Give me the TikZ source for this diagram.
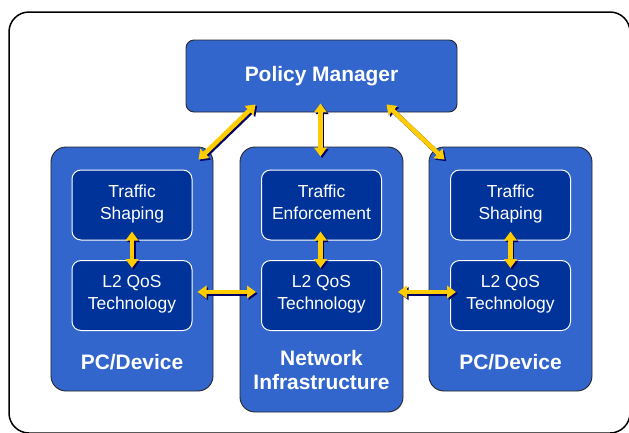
\documentclass[tikz,border=0pt]{standalone}
\usepackage{fontspec}
\setmainfont{Liberation Sans}
\usetikzlibrary{arrows.meta,calc}
\definecolor{midblue}{HTML}{3366CC}
\definecolor{darkblue}{HTML}{003399}
\definecolor{gold}{HTML}{FFCC00}
\definecolor{navy}{HTML}{000066}
\tikzset{
  outerbox/.style={draw=black!85,line width=0.9bp,fill=midblue,rounded corners=15bp,inner sep=0pt},
  innerbox/.style={draw=white,line width=1bp,fill=darkblue,rounded corners=9bp,inner sep=0pt,
    minimum width=120bp,minimum height=70bp,text=white,align=center,
    font=\fontsize{17.5}{22}\selectfont},
  boxlabel/.style={text=white,align=center,font=\fontsize{21}{25}\selectfont\bfseries},
  arr/.style={draw=gold,line width=4.6bp,{Triangle[width=12.5bp,length=9bp]}-{Triangle[width=12.5bp,length=9bp]}},
  arrshadow/.style={arr,draw=navy,transform canvas={shift={(1.6bp,-1.6bp)}}}
}
% double arrow with shadow
\newcommand\dblarrow[2]{%
  \draw[arrshadow] #1 -- #2;
  \draw[arr] #1 -- #2;}
\begin{document}
\begin{tikzpicture}[x=1bp,y=-1bp,line join=round]
\useasboundingbox (0,0) rectangle (629,432);
\clip (0,0) rectangle (629,432);
% frame
\draw[line width=1.5bp,rounded corners=20bp] (9,12) rectangle (630,433);
% policy manager
\node[outerbox,rounded corners=8bp,minimum width=271bp,minimum height=72bp] (pm) at (321.5,76) {};
\node[boxlabel] (pmlbl) at (pm.center) {Policy Manager};
% three columns
\node[outerbox,minimum width=162bp,minimum height=244bp] (pcL) at (132,269) {};
\node[outerbox,minimum width=163bp,minimum height=265bp] (net) at (321.5,279.5) {};
\node[outerbox,minimum width=163bp,minimum height=244bp] (pcR) at (510.5,269) {};
% inner boxes
\node[innerbox] (shapeL) at (132,205) {Traffic\\Shaping\\[-16bp]};
\node[innerbox] (qosL) at (132,295.5) {L2 QoS\\Technology\\[-16bp]};
\node[innerbox] (enf) at (321.5,205) {Traffic\\Enforcement\\[-16bp]};
\node[innerbox] (qosN) at (321.5,295.5) {L2 QoS\\Technology\\[-16bp]};
\node[innerbox] (shapeR) at (510.5,205) {Traffic\\Shaping\\[-16bp]};
\node[innerbox] (qosR) at (510.5,295.5) {L2 QoS\\Technology\\[-16bp]};
% column labels
\node[boxlabel] (pcLlbl) at (132,362) {PC/Device};
\node[boxlabel] (netlbl) at (321.5,370) {Network\\Infrastructure};
\node[boxlabel] (pcRlbl) at (510.5,362) {PC/Device};
% arrows
\dblarrow{($(pcL.north east)+(-15,13)$)}{($(pm.south west)+(70,-8)$)}
\dblarrow{($(pm.south)+(-1,-9)$)}{($(net.north)+(-1,10)$)}
\dblarrow{($(pm.south east)+(-71,-8)$)}{($(pcR.north west)+(16,13)$)}
\dblarrow{($(shapeL.south)+(0,-9)$)}{($(qosL.north)+(0,8)$)}
\dblarrow{($(enf.south)+(-1,-9)$)}{($(qosN.north)+(-1,8)$)}
\dblarrow{($(shapeR.south)+(0,-9)$)}{($(qosR.north)+(0,8)$)}
\dblarrow{($(qosL.east)+(5,-3.5)$)}{($(qosN.west)+(-5,-3.5)$)}
\dblarrow{($(qosN.east)+(16,-3.5)$)}{($(qosR.west)+(6,-3.5)$)}
\end{tikzpicture}
\end{document}
